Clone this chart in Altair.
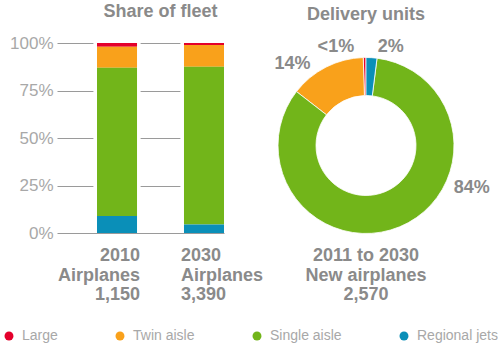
import altair as alt
import pandas as pd

# ---------------- data ----------------
categories = ["Large", "Twin aisle", "Single aisle", "Regional jets"]
colors = ["#e4002b", "#f9a11b", "#72b51a", "#0a8fb8"]
stack_order = [3, 2, 1, 0]  # Regional jets stacked first (bottom / 12 o'clock)

years = ["2010", "2030"]
fleet_share_2010 = [2, 11, 78, 9]
fleet_share_2030 = [1, 11.5, 83, 4.5]
fleet_captions = ["2010\nAirplanes\n1,150", "2030\nAirplanes\n3,390"]

delivery_share = [0.5, 14, 83.5, 2]
delivery_labels = ["<1%", "14%", "84%", "2%"]
delivery_caption = "2011 to 2030\nNew airplanes\n2,570"

y_ticks = [0, 25, 50, 75, 100]

# annotation layout for the donut labels (degrees from north, radius in px)
label_angle_deg = [343, 318, 112, 14]
label_radius_px = [103, 110, 114, 102]

FONT = "Liberation Sans"
TXT = "#8a8a8a"
LIGHT = "#a8a8a8"

# ---------------- tables ----------------
rows = []
for yr, shares in zip(years, [fleet_share_2010, fleet_share_2030]):
    for c, s, o in zip(categories, shares, stack_order):
        rows.append({"year": yr, "category": c, "share": s, "ord": o})
fleet_df = pd.DataFrame(rows)
year_df = pd.DataFrame({"year": years, "caption": fleet_captions})

del_df = pd.DataFrame({
    "category": categories,
    "share": delivery_share,
    "ord": stack_order,
    "label": delivery_labels,
    "lab_theta": [a * 3.141592653589793 / 180 for a in label_angle_deg],
    "lab_r": label_radius_px,
})
cap_df = pd.DataFrame({"caption": [delivery_caption]})

color_enc = alt.Color(
    "category:N",
    scale=alt.Scale(domain=categories, range=colors),
    legend=alt.Legend(title=None),
)

xscale = alt.Scale(domain=years, paddingInner=0.54, paddingOuter=0.23, align=1)
yscale = alt.Scale(domain=[0, 100], nice=False)

# ---------------- left: share of fleet ----------------
backdrop = alt.Chart(year_df).mark_bar(
    color="white", width=alt.RelativeBandSize(1.18)
).encode(
    x=alt.X("year:N", scale=xscale, axis=None),
    y=alt.Y(datum=100, scale=yscale, title=None),
    y2=alt.Y2(datum=0),
)

bars = alt.Chart(fleet_df).mark_bar().encode(
    x=alt.X("year:N", scale=xscale, axis=None),
    y=alt.Y(
        "share:Q",
        stack="zero",
        scale=yscale,
        title=None,
        axis=alt.Axis(
            values=y_ticks,
            labelExpr="datum.value + '%'",
            grid=True,
            gridColor="#9a9a9a",
            gridWidth=1.2,
            domain=False,
            ticks=False,
            labelPadding=4,
            labelFontSize=17,
            labelColor=LIGHT,
            labelFont=FONT,
        ),
    ),
    color=color_enc,
    order=alt.Order("ord:Q"),
)

cap_style = dict(baseline="top", lineBreak="\n", fontSize=18, fontWeight="bold",
                 color=TXT, font=FONT, lineHeight=19.5)
cap_left = alt.Chart(year_df).transform_filter("datum.year == '2010'").mark_text(
    align="right", dx=3, **cap_style
).encode(x=alt.X("year:N", bandPosition=1, axis=None), y=alt.value(204), text="caption:N")
cap_right = alt.Chart(year_df).transform_filter("datum.year == '2030'").mark_text(
    align="left", dx=-3, **cap_style
).encode(x=alt.X("year:N", bandPosition=0, axis=None), y=alt.value(204), text="caption:N")

left = alt.layer(backdrop, bars, cap_left, cap_right).properties(
    width=167,
    height=190,
    title=alt.TitleParams("Share of fleet", fontSize=18, fontWeight="bold", color=TXT,
                          font=FONT, anchor="middle", frame="group", dx=20, offset=13.5),
)

# ---------------- right: delivery units ----------------
arcs = alt.Chart(del_df).mark_arc(innerRadius=50, outerRadius=88, stroke="white", strokeWidth=0.8).encode(
    theta=alt.Theta("share:Q", stack=True),
    color=color_enc,
    order=alt.Order("ord:Q"),
)
labels = alt.Chart(del_df).mark_text(
    fontSize=18, fontWeight="bold", color=TXT, font=FONT, align="center", baseline="middle"
).encode(
    theta=alt.Theta("lab_theta:Q", scale=None),
    radius=alt.Radius("lab_r:Q", scale=None),
    text="label:N",
)
cap_mid = alt.Chart(cap_df).mark_text(align="center", **cap_style).encode(
    y=alt.value(204), text="caption:N"
)

right = alt.layer(arcs, labels, cap_mid).resolve_scale(
    theta="independent", radius="independent"
).properties(
    width=180,
    height=205,
    title=alt.TitleParams("Delivery units", fontSize=18, fontWeight="bold", color=TXT,
                          font=FONT, anchor="middle", frame="group", offset=13.5),
)

chart = alt.hconcat(left, right, spacing=10).resolve_scale(color="shared").properties(
    padding={"left": 2, "top": 2, "right": 0, "bottom": 0}
).configure_view(stroke=None).configure_legend(
    orient="none",
    legendX=-55,
    legendY=286,
    direction="horizontal",
    symbolType="circle",
    symbolSize=80,
    symbolStrokeWidth=0,
    labelFontSize=14,
    labelColor=LIGHT,
    labelFont=FONT,
    labelOffset=6,
    columnPadding=55,
)

chart.save("out.html", embed_options={"renderer": "svg", "actions": False})
